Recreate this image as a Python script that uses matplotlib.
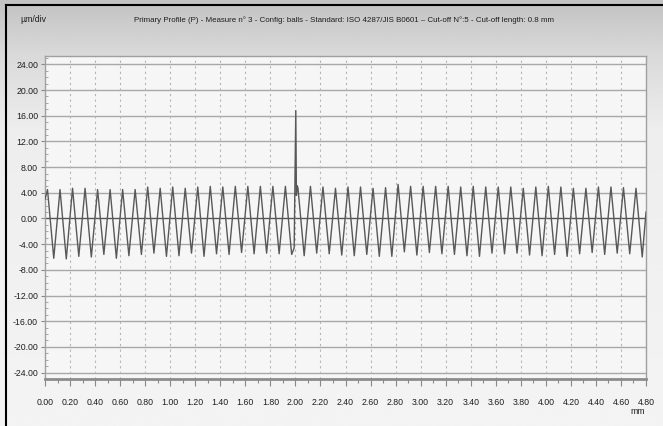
import numpy as np
import matplotlib
matplotlib.use("Agg")
import matplotlib.pyplot as plt
from matplotlib.lines import Line2D
from matplotlib.ticker import MultipleLocator, FormatStrFormatter

plt.rcParams['font.family'] = ['Liberation Sans Narrow', 'Liberation Sans', 'DejaVu Sans']

# profile: peak / trough positions (mm) and heights (um)
peak_mm = [0.02, 0.12, 0.22, 0.32, 0.42, 0.52, 0.62, 0.72, 0.82, 0.92,
           1.02, 1.12, 1.22, 1.32, 1.42, 1.52, 1.62, 1.72, 1.82, 1.92,
           2.02, 2.12, 2.22, 2.32, 2.42, 2.52, 2.62, 2.72, 2.82, 2.92,
           3.02, 3.12, 3.22, 3.32, 3.42, 3.52, 3.62, 3.72, 3.82, 3.92,
           4.02, 4.12, 4.22, 4.32, 4.42, 4.52, 4.62, 4.72]
peak_um = [4.5, 4.5, 4.7, 4.7, 4.5, 4.5, 4.5, 4.5, 4.9, 4.7,
           4.9, 4.7, 4.9, 5.0, 4.9, 5.0, 5.0, 5.0, 5.0, 5.0,
           4.8, 5.0, 4.9, 4.7, 4.9, 4.9, 4.7, 4.8, 5.3, 5.0,
           5.0, 5.0, 5.0, 4.9, 5.0, 4.9, 4.9, 4.9, 4.7, 4.9,
           5.0, 4.9, 4.7, 4.7, 4.9, 4.9, 4.8, 4.7]
trough_mm = [0.07, 0.17, 0.27, 0.37, 0.47, 0.57, 0.67, 0.77, 0.87, 0.97,
             1.07, 1.17, 1.27, 1.37, 1.47, 1.57, 1.67, 1.77, 1.87, 1.97,
             2.07, 2.17, 2.27, 2.37, 2.47, 2.57, 2.67, 2.77, 2.87, 2.97,
             3.07, 3.17, 3.27, 3.37, 3.47, 3.57, 3.67, 3.77, 3.87, 3.97,
             4.07, 4.17, 4.27, 4.37, 4.47, 4.57, 4.67, 4.77]
trough_um = [-6.2, -6.3, -5.9, -6.0, -5.6, -6.2, -5.8, -5.6, -5.4, -5.9,
             -5.8, -5.4, -5.9, -5.5, -5.6, -5.3, -5.5, -5.4, -5.5, -5.6,
             -5.8, -5.4, -5.5, -5.7, -5.8, -5.6, -5.9, -5.9, -5.2, -5.7,
             -5.3, -5.5, -5.6, -5.8, -5.9, -5.4, -5.5, -5.4, -5.7, -5.8,
             -5.6, -5.9, -5.5, -5.3, -5.6, -5.4, -5.5, -6.0]
# ends of the trace and the spike near 2.00 mm
extra_mm = [0.0, 1.99, 2.003, 2.008, 2.013, 4.8]
extra_um = [3.0, -4.6, 16.8, 3.6, 5.1, 1.0]

xticks = [0.0, 0.2, 0.4, 0.6, 0.8, 1.0, 1.2, 1.4, 1.6, 1.8, 2.0, 2.2,
          2.4, 2.6, 2.8, 3.0, 3.2, 3.4, 3.6, 3.8, 4.0, 4.2, 4.4, 4.6, 4.8]
yticks = [-24, -20, -16, -12, -8, -4, 0, 4, 8, 12, 16, 20, 24]

title = ("Primary Profile (P) - Measure n\u00b0 3 - Config: balls - Standard: ISO 4287/JIS B0601 "
         "\u2013 Cut-off N\u00b0:5 - Cut-off length: 0.8 mm")

x = np.array(peak_mm + trough_mm + extra_mm)
y = np.array(peak_um + trough_um + extra_um)
order = np.argsort(x, kind="stable")
x, y = x[order], y[order]

fig = plt.figure(figsize=(6.63, 4.26), dpi=100)

# grey-to-white background of the window
bg = fig.add_axes([0, 0, 1, 1], zorder=-10)
grad = np.interp(np.linspace(0, 1, 200), [0, 0.12, 0.3, 1], [0.76, 0.85, 0.93, 0.955])
bg.imshow(grad[:, None], aspect="auto", cmap="gray", vmin=0, vmax=1,
          extent=[0, 1, 0, 1], origin="upper")
bg.set_xlim(0, 1)
bg.set_ylim(0, 1)
bg.axis("off")

ax = fig.add_axes([45 / 663, 1 - 379 / 426, 601 / 663, 323 / 426])
ax.set_facecolor("#f6f6f6")
ax.set_xlim(0, 4.8)
ax.set_ylim(-25.0, 25.3)

for v in yticks:
    ax.axhline(v, color="#555555" if v == 0 else "#a8a8a8", lw=1.0, zorder=1)
for v in xticks[1:-1]:
    ax.axvline(v, color="#b4b4b4", lw=0.8, ls=(0, (2, 3)), zorder=1)

ax.plot(x, y, color="#585858", lw=1.0, zorder=3)

ax.set_xticks(xticks)
ax.set_yticks(yticks)
ax.xaxis.set_minor_locator(MultipleLocator(0.1))
ax.yaxis.set_minor_locator(MultipleLocator(1))
ax.xaxis.set_major_formatter(FormatStrFormatter("%.2f"))
ax.yaxis.set_major_formatter(FormatStrFormatter("%.2f"))
ax.tick_params(axis="x", which="major", length=5, width=0.8, color="#888888",
               labelsize=6.3, pad=9, labelcolor="#1e1e1e")
ax.tick_params(axis="x", which="minor", length=3, width=0.8, color="#888888")
ax.tick_params(axis="y", which="major", length=3, width=0.8, color="#888888",
               labelsize=6.3, pad=2, labelcolor="#1e1e1e")
ax.tick_params(axis="y", which="minor", direction="in", length=2, width=0.6,
               color="#999999")

for side in ["top", "right", "left"]:
    ax.spines[side].set_color("#a0a0a0")
    ax.spines[side].set_linewidth(1.0)
ax.spines["bottom"].set_color("#8c8c8c")
ax.spines["bottom"].set_linewidth(2.0)

fig.text(20 / 663, 1 - 20 / 426, "\u00b5m/div", fontsize=6.3, color="#1e1e1e",
         ha="left", va="center")
fig.text(344 / 663, 1 - 20 / 426, title, fontsize=5.7, color="#1e1e1e",
         ha="center", va="center")
fig.text(638 / 663, 1 - 412 / 426, "mm", fontsize=6.3, color="#1e1e1e",
         ha="center", va="center")

# black window frame on the left and top
fig.add_artist(Line2D([6 / 663, 6 / 663], [0, 1 - 5 / 426], color="black", lw=1.5,
                      transform=fig.transFigure))
fig.add_artist(Line2D([6 / 663, 1], [1 - 5 / 426, 1 - 5 / 426], color="black", lw=1.5,
                      transform=fig.transFigure))

fig.savefig("out.png", dpi=100)
